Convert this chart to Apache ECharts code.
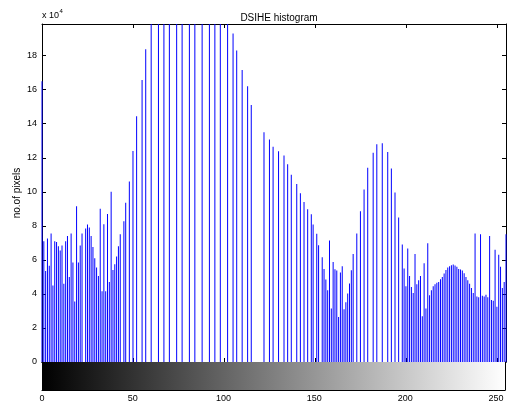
<!DOCTYPE html>
<html><head><meta charset="utf-8">
<script src="https://cdn.jsdelivr.net/npm/echarts@6/dist/echarts.min.js"></script>
<style>html,body{margin:0;padding:0;background:#fff}#c{width:508px;height:404px}</style>
</head><body><div id="c"></div>
<script>
// pixel counts per gray level, in units of 10^4 (bins 0..255)
const countsDark = [
  16.5, 7.1, 5.35, 7.25, 5.65, 7.55, 4.5, 7.1, 7.05, 6.8,
  6.55, 6.85, 4.6, 7.1, 7.4, 5.0, 7.55, 5.85, 3.55, 9.15,
  5.85, 6.85, 7.55, 0, 7.85, 8.08, 7.9, 7.4, 6.75, 6.1,
  5.55, 5.05, 9.0, 4.15, 8.1, 4.15, 8.7, 4.7, 10.0, 5.4,
  5.75, 6.2, 6.8, 7.5, 0, 8.27, 9.35, 0
];
const countsRise = [
  10.6, 0, 12.4, 0, 14.44, 0, 0, 16.57, 0, 18.38,
  0, 0, 21.5, 0, 0, 0, 23.4, 0, 0, 24.6,
  0, 0, 25.8, 0, 0, 0, 26.9, 0, 0, 27.3,
  0, 0, 0, 27.1, 0, 0, 26.4, 0, 0, 0,
  25.2, 0, 0, 0, 23.9, 0, 0, 22.6, 0, 0,
  21.4, 0, 0, 0, 20.3, 0, 0, 19.3, 0, 18.3,
  0, 0, 17.15, 0, 0, 16.2, 0, 15.1
];
const countsFall = [
  0, 0, 0, 0, 0, 0, 13.5, 0, 0, 13.08,
  0, 12.65, 0, 0, 12.38, 0, 0, 12.14, 0, 11.62,
  0, 11.0, 0, 0, 10.46, 0, 9.91, 0, 9.4, 0,
  8.98, 0, 8.68, 8.08, 0, 7.53, 6.86, 0, 6.16, 5.47,
  4.85, 4.22, 7.14, 3.14, 5.87, 5.45, 5.38, 2.64, 5.26, 5.62,
  3.1, 3.51, 4.02, 4.61, 5.39, 6.35, 0, 7.55, 0, 8.86,
  0, 10.14, 0, 11.41, 0, 0, 12.3, 0, 12.8, 0,
  0, 12.85, 0, 0, 12.34, 0, 11.37, 0, 9.96, 0,
  8.49, 0
];
const countsBright = [
  6.9, 5.5, 4.45, 6.67, 5.06, 4.41, 4.06, 6.34, 4.57, 4.8,
  5.06, 2.69, 5.8, 3.14, 6.98, 3.92, 4.22, 4.45, 4.57, 4.65,
  4.7, 4.86, 5.0, 5.2, 5.4, 5.55, 5.62, 5.68, 5.73, 5.67,
  5.6, 5.47, 5.43, 5.38, 5.22, 5.0, 4.8, 4.6, 4.35, 4.05,
  7.55, 3.85, 3.8, 7.5, 3.9, 3.85, 3.95, 3.8, 7.4, 3.65,
  3.6, 6.6, 3.25, 6.3, 5.6, 4.35, 4.7, 7.5
];
const xTicks = [0, 50, 100, 150, 200, 250];
const yTicks = [0, 2, 4, 6, 8, 10, 12, 14, 16, 18];
const grayRange = [0, 255];
const yMax = 19.86;
const titleText = 'DSIHE histogram';
const yLabel = 'no.of pixels';
const expBase = 'x 10';
const expPower = '4';

const counts = countsDark.concat(countsRise, countsFall, countsBright);
const barData = [];
counts.forEach(function (v, i) { if (v > 0) barData.push([i, v]); });

const FONT = '"Liberation Sans", Arial, Helvetica, sans-serif';
const BLACK = '#000';
const lineStyle = { color: BLACK, width: 1 };
const xLabelFmt = function (v) { return xTicks.indexOf(v) >= 0 ? String(v) : ''; };
const yLabelFmt = function (v) { return yTicks.indexOf(v) >= 0 ? String(v) : ''; };

function xAx(grid, pos, showLabel) {
  return {
    gridIndex: grid, type: 'value', position: pos,
    min: grayRange[0], max: grayRange[1], interval: 50,
    axisLine: { show: true, onZero: false, lineStyle: lineStyle },
    axisTick: { show: true, inside: true, length: 4, lineStyle: lineStyle },
    axisLabel: { show: showLabel, formatter: xLabelFmt, color: BLACK, fontSize: 9, fontFamily: FONT, margin: 4 },
    splitLine: { show: false }
  };
}

const chart = echarts.init(document.getElementById('c'), null, { renderer: 'canvas' });
chart.setOption({
  animation: false,
  backgroundColor: '#fff',
  title: {
    text: titleText, left: 274, top: 8, textAlign: 'center',
    textStyle: { fontSize: 10, fontWeight: 'normal', color: BLACK, fontFamily: FONT }
  },
  grid: [
    { left: 42, top: 24, width: 464, height: 338 },
    { left: 42, top: 362, width: 464, height: 28 }
  ],
  xAxis: [
    xAx(0, 'bottom', false),
    xAx(0, 'top', false),
    xAx(1, 'bottom', true),
    xAx(1, 'top', false)
  ],
  yAxis: [
    {
      gridIndex: 0, type: 'value', position: 'left', min: 0, max: yMax, interval: 2,
      name: yLabel, nameLocation: 'middle', nameGap: 20, nameMoveOverlap: false,
      nameTextStyle: { fontSize: 10, color: BLACK, fontFamily: FONT },
      axisLine: { show: true, onZero: false, lineStyle: lineStyle },
      axisTick: { show: true, inside: true, length: 4, lineStyle: lineStyle },
      axisLabel: { formatter: yLabelFmt, color: BLACK, fontSize: 9, fontFamily: FONT, margin: 5, showMaxLabel: false },
      splitLine: { show: false }
    },
    {
      gridIndex: 0, type: 'value', position: 'right', min: 0, max: yMax, interval: 2,
      axisLine: { show: true, onZero: false, lineStyle: lineStyle },
      axisTick: { show: true, inside: true, length: 4, lineStyle: lineStyle },
      axisLabel: { show: false }, splitLine: { show: false }
    },
    {
      gridIndex: 1, type: 'value', position: 'left', min: 0, max: 1,
      axisLine: { show: true, onZero: false, lineStyle: lineStyle },
      axisTick: { show: false }, axisLabel: { show: false }, splitLine: { show: false }
    },
    {
      gridIndex: 1, type: 'value', position: 'right', min: 0, max: 1,
      axisLine: { show: true, onZero: false, lineStyle: lineStyle },
      axisTick: { show: false }, axisLabel: { show: false }, splitLine: { show: false }
    }
  ],
  graphic: [
    { type: 'text', left: 42, top: 11, style: { text: expBase, fill: BLACK, font: '9px ' + FONT } },
    { type: 'text', left: 59.5, top: 8, style: { text: expPower, fill: BLACK, font: '6px ' + FONT } }
  ],
  series: [
    {
      type: 'custom', xAxisIndex: 2, yAxisIndex: 2, z: 1,
      data: [grayRange], encode: { x: [0, 1] },
      renderItem: function (params, api) {
        const p0 = api.coord([api.value(0), 1]);
        const p1 = api.coord([api.value(1), 0]);
        return {
          type: 'rect',
          shape: { x: p0[0], y: p0[1], width: p1[0] - p0[0], height: p1[1] - p0[1] },
          style: {
            fill: new echarts.graphic.LinearGradient(0, 0, 1, 0, [
              { offset: 0, color: '#000' }, { offset: 1, color: '#fff' }
            ])
          }
        };
      }
    },
    {
      type: 'bar', xAxisIndex: 0, yAxisIndex: 0, data: barData,
      barWidth: 1, itemStyle: { color: '#0000ff' }, z: 2
    }
  ]
});
</script></body></html>
